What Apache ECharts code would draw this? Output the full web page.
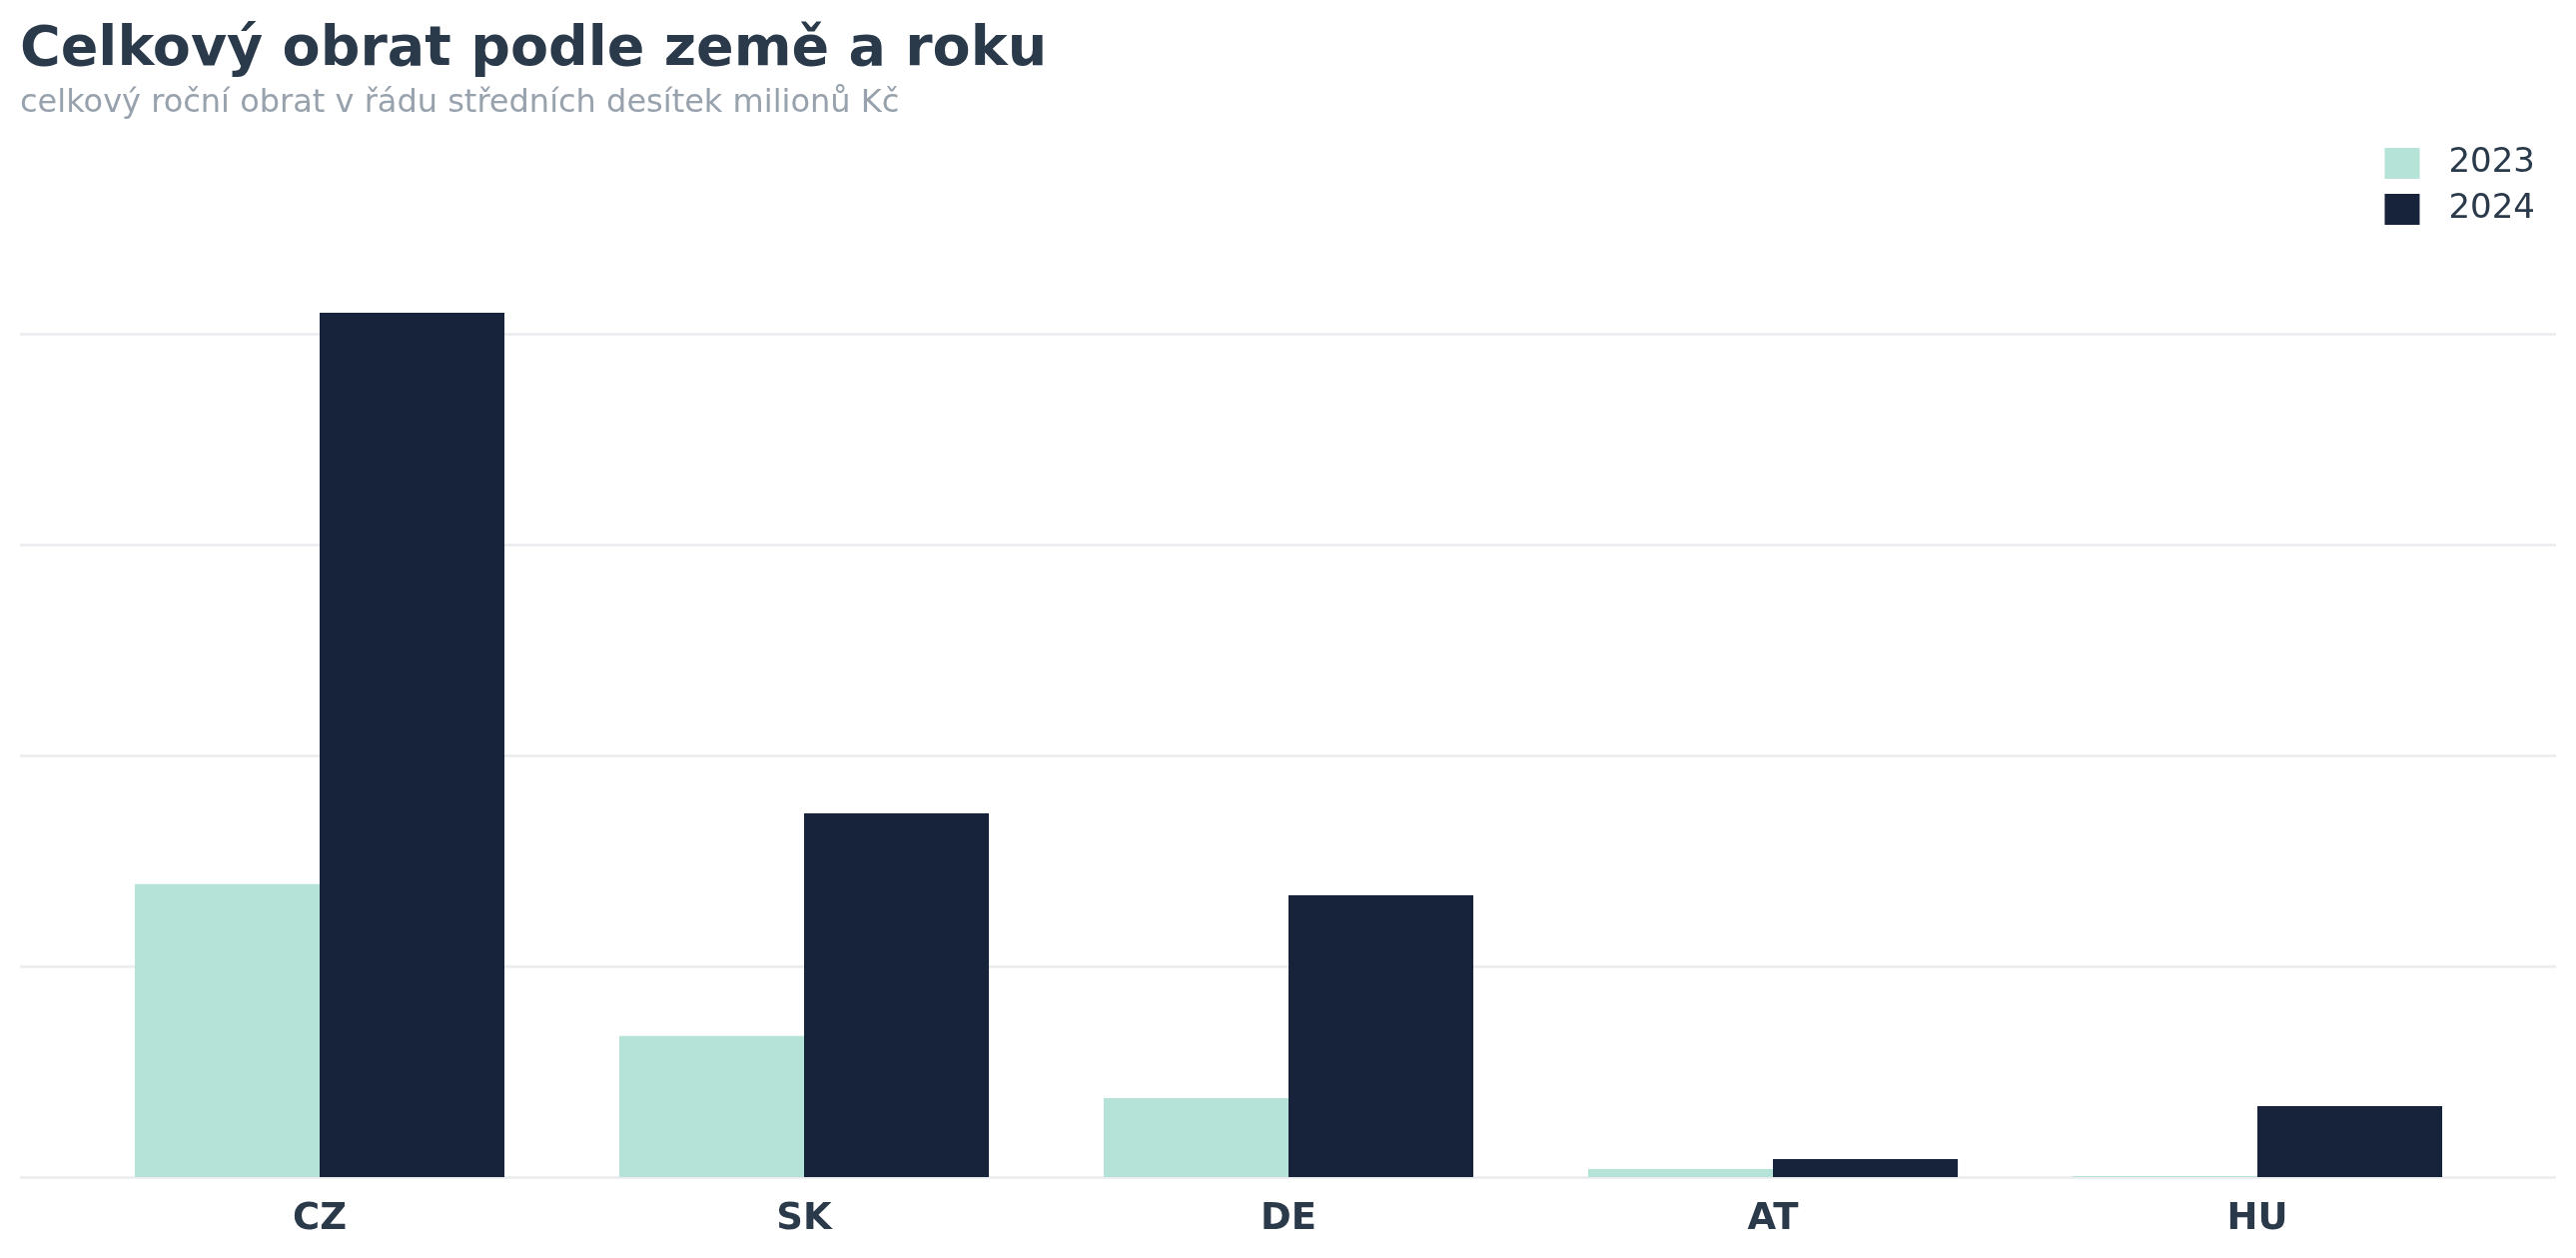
<!DOCTYPE html>
<html>
<head>
<meta charset="utf-8">
<script src="https://cdn.jsdelivr.net/npm/echarts@6/dist/echarts.min.js"></script>
<style>html,body{margin:0;padding:0;background:#fff}#c{width:2579px;height:1259px}</style>
</head>
<body>
<div id="c"></div>
<script>
const categories = ['CZ', 'SK', 'DE', 'AT', 'HU'];
const seriesNames = ['2023', '2024'];
const values2023 = [13.9, 6.7, 3.75, 0.38, 0.05];
const values2024 = [41.0, 17.25, 13.36, 0.85, 3.36];
const gridMax = 40;
const gridStep = 10;

const chart = echarts.init(document.getElementById('c'), null, {renderer: 'canvas'});
const font = 'DejaVu Sans';
chart.setOption({
  backgroundColor: '#ffffff',
  animation: false,
  title: [
    {text: 'Celkový obrat podle země a roku', left: 20, top: 23, padding: 0,
     textStyle: {fontFamily: font, fontSize: 55.5, fontWeight: 'bold', color: '#2b3a4b'}},
    {text: 'celkový roční obrat v řádu středních desítek milionů Kč', left: 20, top: 88, padding: 0,
     textStyle: {fontFamily: font, fontSize: 32, fontWeight: 'normal', color: '#98a2ad'}}
  ],
  legend: {
    orient: 'vertical', right: 41, top: 146, padding: 0,
    itemWidth: 35, itemHeight: 31, itemGap: 11,
    icon: 'rect',
    textStyle: {fontFamily: font, fontSize: 34, color: '#2b3a4b', lineHeight: 32, padding: [3, 0, 0, 24]},
    data: seriesNames
  },
  grid: [
    {left: 20, right: 20, top: 334, bottom: 81},
    {left: 77.5, right: 76.5, top: 228.5, bottom: 81}
  ],
  xAxis: [
    {type: 'category', gridIndex: 0, data: [''], show: false},
    {type: 'category', gridIndex: 1, data: categories,
     axisLine: {show: false}, axisTick: {show: false},
     axisLabel: {fontFamily: font, fontSize: 37, fontWeight: 'bold', color: '#2b3a4b', margin: 24}}
  ],
  yAxis: [
    {type: 'value', gridIndex: 0, min: 0, max: gridMax, interval: gridStep,
     axisLabel: {show: false}, axisLine: {show: false}, axisTick: {show: false},
     splitLine: {show: true, lineStyle: {color: '#e9ebee', width: 2.5}}},
    {type: 'value', gridIndex: 1, min: 0, max: gridMax + gridStep / 2, show: false,
     splitLine: {show: false}}
  ],
  series: [
    {name: seriesNames[0], type: 'bar', xAxisIndex: 1, yAxisIndex: 1, data: values2023,
     barGap: '0%', barCategoryGap: '23.7%', itemStyle: {color: '#b5e3d8'}},
    {name: seriesNames[1], type: 'bar', xAxisIndex: 1, yAxisIndex: 1, data: values2024,
     barGap: '0%', barCategoryGap: '23.7%', itemStyle: {color: '#17233b'}}
  ]
});
</script>
</body>
</html>
